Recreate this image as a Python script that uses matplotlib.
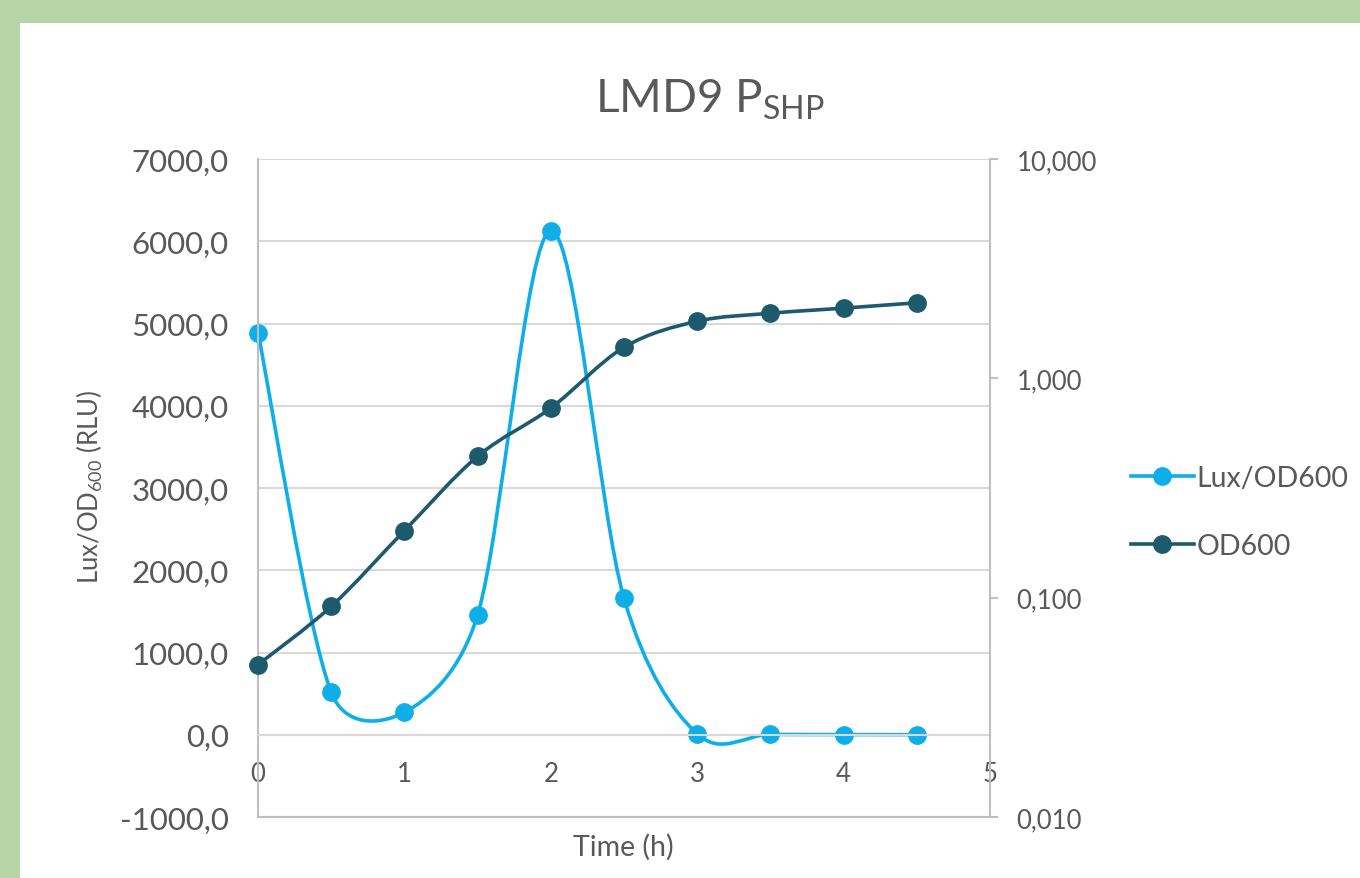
import numpy as np
import matplotlib
matplotlib.use("Agg")
import matplotlib.pyplot as plt
from matplotlib.path import Path
from matplotlib.patches import PathPatch, Rectangle
from matplotlib.lines import Line2D
from matplotlib.ticker import FixedLocator, FuncFormatter, NullLocator

# values
time_h = [0, 0.5, 1, 1.5, 2, 2.5, 3, 3.5, 4, 4.5]
lux_od600 = [4890, 516, 273, 1456, 6128, 1659, 10, 4, 2, 1]
od600 = [0.0495, 0.0913, 0.202, 0.441, 0.732, 1.385, 1.82, 1.98, 2.09, 2.21]

time_ticks = [0, 1, 2, 3, 4, 5]
lux_ticks = [-1000, 0, 1000, 2000, 3000, 4000, 5000, 6000, 7000]
od_ticks = [0.01, 0.1, 1, 10]

LUX_COLOR = "#0eafe9"
OD_COLOR = "#1d5a6e"
GRID = "#d9d9d9"
AXIS = "#bfbfbf"
TXT = "#595959"
GREEN = "#b5d5a7"
LW = 2.6
MS = 12.5

plt.rcParams["font.family"] = ["Lato", "DejaVu Sans"]
plt.rcParams["mathtext.fontset"] = "custom"
plt.rcParams["mathtext.rm"] = "Lato"


def smooth_path(ax, xs, ys):
    # Excel style "smoothed line": bezier segments built in pixel space,
    # control arm = (next - prev)/6, capped at half the segment length
    pts = ax.transData.transform(np.column_stack([xs, ys]))
    n = len(pts)
    verts = [pts[0]]
    codes = [Path.MOVETO]
    for i in range(n - 1):
        p0 = pts[max(i - 1, 0)]
        p1 = pts[i]
        p2 = pts[i + 1]
        p3 = pts[min(i + 2, n - 1)]
        half = np.hypot(*(p2 - p1)) / 2.0
        t1 = (p2 - p0) / 6.0
        t2 = (p3 - p1) / 6.0
        l1 = np.hypot(*t1)
        l2 = np.hypot(*t2)
        if l1 > half:
            t1 = t1 * half / l1
        if l2 > half:
            t2 = t2 * half / l2
        verts += [p1 + t1, p2 - t2, p2]
        codes += [Path.CURVE4] * 3
    verts = ax.transData.inverted().transform(np.array(verts))
    return Path(verts, codes)


fig = plt.figure(figsize=(13.6, 8.79), dpi=100)
fig.patch.set_facecolor(GREEN)
fig.patches.append(Rectangle((20 / 1360, 0), 1, 1 - 24 / 879, transform=fig.transFigure,
                             facecolor="white", edgecolor="none", zorder=-1))

ax = fig.add_axes([258 / 1360, 61 / 879, 732 / 1360, 658 / 879])
ax.set_facecolor("none")
ax.set_xlim(0, 5)
ax.set_ylim(-1000, 7000)
ax2 = ax.twinx()
ax2.set_yscale("log")
ax2.set_ylim(0.01, 10)

ax.yaxis.set_major_locator(FixedLocator(lux_ticks))
ax.yaxis.set_major_formatter(FuncFormatter(lambda v, p: f"{v:.1f}".replace(".", ",")))
ax.xaxis.set_major_locator(FixedLocator(time_ticks))
ax.grid(axis="y", color=GRID, lw=1.5)
ax.set_axisbelow(True)
ax.tick_params(axis="y", length=0, pad=21, labelsize=22.5, labelcolor=TXT)
ax.tick_params(axis="x", length=0, pad=19, labelsize=18.5, labelcolor=TXT)
ax.spines["bottom"].set_position(("data", 0))
ax.spines["bottom"].set_color(GRID)
ax.spines["bottom"].set_linewidth(1.5)
ax.spines["left"].set_color(AXIS)
ax.spines["left"].set_linewidth(1.5)
ax.spines["top"].set_visible(False)
ax.spines["right"].set_visible(False)

ax2.yaxis.set_major_locator(FixedLocator(od_ticks))
ax2.yaxis.set_minor_locator(NullLocator())
ax2.yaxis.set_major_formatter(FuncFormatter(lambda v, p: f"{v:.3f}".replace(".", ",")))
ax2.tick_params(axis="y", length=6, width=1.5, color=AXIS, pad=13, labelsize=18.5, labelcolor=TXT)
for s in ["top", "left"]:
    ax2.spines[s].set_visible(False)
ax2.spines["right"].set_color(AXIS)
ax2.spines["right"].set_linewidth(1.5)
ax2.spines["bottom"].set_color(AXIS)
ax2.spines["bottom"].set_linewidth(1.5)

ax.add_patch(PathPatch(smooth_path(ax, time_h, lux_od600), facecolor="none",
                       edgecolor=LUX_COLOR, lw=LW, capstyle="round", joinstyle="round"))
ax.plot(time_h, lux_od600, "o", color=LUX_COLOR, ms=MS, mec=LUX_COLOR, clip_on=False)

ax2.add_patch(PathPatch(smooth_path(ax2, time_h, od600), facecolor="none",
                        edgecolor=OD_COLOR, lw=LW, capstyle="round", joinstyle="round"))
ax2.plot(time_h, od600, "o", color=OD_COLOR, ms=MS, mec=OD_COLOR, clip_on=False)

fig.text(710 / 1360, 1 - 112 / 879, r"LMD9 P$_{\mathrm{SHP}}$", ha="center", va="baseline",
         fontsize=33, color=TXT)
fig.text(90 / 1360, 1 - 487 / 879, r"Lux/OD$_{\mathrm{600}}$ (RLU)", rotation=90,
         ha="center", va="center", fontsize=18.5, color=TXT)
fig.text(623 / 1360, 1 - 847 / 879, "Time (h)", ha="center", va="center",
         fontsize=20.5, color=TXT)

handles = [Line2D([], [], color=LUX_COLOR, lw=LW, marker="o", ms=MS),
           Line2D([], [], color=OD_COLOR, lw=LW, marker="o", ms=MS)]
leg = fig.legend(handles, ["Lux/OD600", "OD600"], loc="center left",
                 bbox_to_anchor=(1131 / 1360, 1 - 513 / 879), frameon=False,
                 fontsize=20.5, handlelength=2.2, handletextpad=0.1, labelspacing=1.45,
                 borderaxespad=0, borderpad=0)
for t in leg.get_texts():
    t.set_color(TXT)

fig.savefig("out.png", dpi=100, facecolor=fig.get_facecolor())
